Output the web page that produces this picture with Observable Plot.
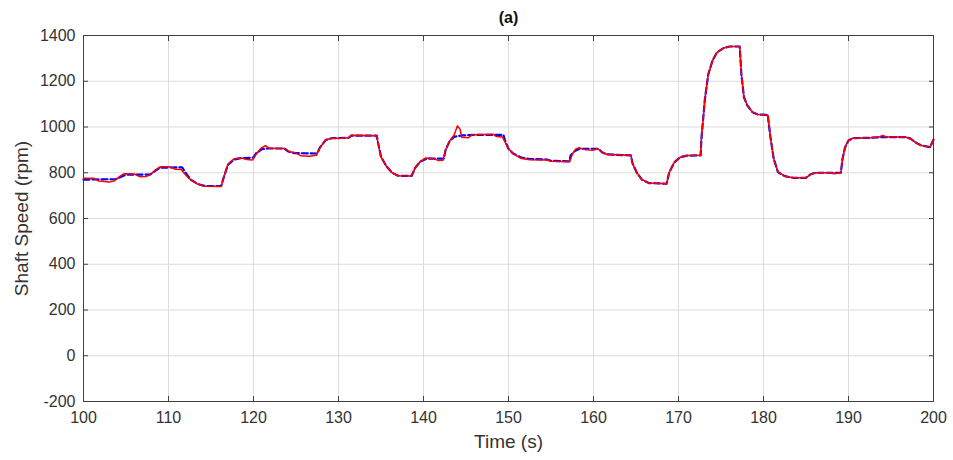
<!DOCTYPE html>
<html>
<head>
<meta charset="utf-8">
<script src="https://cdn.jsdelivr.net/npm/d3@7"></script>
<script src="https://cdn.jsdelivr.net/npm/@observablehq/plot@0.6"></script>
<style>
  html, body { margin: 0; padding: 0; background: #fff; }
  #chart svg { display: block; }
</style>
</head>
<body>
<div id="chart"></div>
<script>
// Reference shaft speed (blue dashed)
const refTime = [
  100, 103.8, 104.3, 105, 107.8, 108.3, 109, 111.6, 112.0, 112.6, 113.5, 114.3, 116.2,
  116.5, 117, 117.7, 118.5, 120, 120.3, 121, 121.6, 123.6, 124.1, 124.8, 127.5,
  127.8, 128.5, 129.2, 131.2, 131.5, 134.5, 134.6, 135.0, 135.6, 136.3, 137, 138.6,
  139.0, 139.6, 140.4, 142.4, 142.6, 143.1, 143.6, 144.5, 146.0, 149.4,
  149.6, 150.0, 150.5, 151.5, 152.5, 154.5, 155, 157.2,
  157.3, 157.8, 158.4, 160.6, 161.0, 161.6, 164.4,
  164.6, 165.1, 165.7, 166.5, 168.6, 168.9, 169.5, 170.2, 171, 172.6,
  172.7, 173.1, 173.5, 174.0, 174.5, 175.3, 176, 177.2,
  177.4, 177.7, 178.1, 178.7, 179.3, 180.5,
  180.8, 181.2, 181.7, 182.5, 183.5, 185, 185.5, 186.1, 189.1,
  189.3, 189.6, 190, 190.5, 192.6, 194, 196.7, 197.3, 198, 198.6, 199.6, 200
];
const refSpeed = [
  770, 772, 780, 792, 792, 805, 822, 824, 800, 770, 750, 742, 742,
  780, 835, 858, 864, 866, 885, 903, 906, 906, 893, 886, 884,
  910, 943, 951, 953, 962, 962, 940, 870, 830, 800, 787, 786,
  820, 848, 862, 862, 900, 940, 957, 963, 966, 966,
  940, 905, 885, 866, 860, 858, 852, 850,
  875, 895, 905, 905, 890, 880, 876,
  840, 800, 770, 755, 752, 800, 845, 868, 875, 876,
  950, 1120, 1230, 1290, 1325, 1345, 1352, 1352,
  1230, 1130, 1094, 1065, 1055, 1053,
  960, 861, 803, 785, 778, 778, 792, 800, 800,
  861, 912, 941, 951, 953, 956, 956, 949, 930, 919, 912, 945
];

// Measured shaft speed (red solid)
const measTime = [
  100, 101.2, 101.8, 103.0, 103.6, 104.3, 104.8, 106.0, 106.6, 107.4, 107.9, 108.4, 109.0,
  110.2, 110.8, 111.5, 111.8, 112.4, 113.3, 114.2, 116.2,
  116.5, 117.0, 117.7, 118.6, 119.2, 119.9, 120.3, 120.9, 121.4, 121.9, 123.7,
  124.2, 124.9, 125.6, 126.6, 127.4, 127.8, 128.5, 129.3, 130.0, 131.2, 131.5, 133.2, 134.5,
  134.6, 135.0, 135.6, 136.3, 137, 138.6, 139.0, 139.6, 140.2, 141.2, 141.7, 142.3,
  142.6, 143.1, 143.6, 144.0, 144.3, 144.5, 145.3, 145.7, 148.2, 148.6, 149.3,
  149.5, 150.0, 150.5, 151.5, 152.5, 154.5, 155, 157.2,
  157.5, 157.9, 158.3, 159.1, 159.9, 160.5, 161.0, 161.6, 164.4,
  164.6, 165.1, 165.7, 166.5, 168.6, 168.9, 169.5, 170.2, 171, 172.6,
  172.7, 173.1, 173.5, 174.0, 174.5, 175.3, 176, 177.2,
  177.4, 177.7, 178.1, 178.7, 179.3, 180.5,
  180.8, 181.2, 181.7, 182.5, 183.5, 185, 185.5, 186.1, 187.8, 188.3, 189.1,
  189.3, 189.6, 190, 190.5, 192.6, 193.6, 194.0, 194.5, 196.7, 197.3, 198, 198.6, 199.6, 200
];
const measSpeed = [
  776, 776, 764, 760, 764, 785, 796, 794, 783, 784, 792, 810, 826,
  826, 815, 814, 800, 775, 752, 741, 740,
  780, 838, 861, 864, 858, 856, 880, 908, 918, 907, 906,
  892, 888, 874, 872, 876, 908, 944, 952, 950, 953, 964, 963, 962,
  940, 870, 830, 800, 787, 786, 820, 848, 864, 862, 854, 855,
  900, 940, 965, 1005, 990, 955, 953, 966, 968, 958, 956,
  940, 905, 885, 862, 857, 856, 850, 848,
  880, 903, 910, 900, 898, 905, 890, 880, 876,
  840, 800, 770, 755, 752, 800, 845, 868, 875, 876,
  950, 1120, 1230, 1290, 1325, 1345, 1352, 1352,
  1230, 1130, 1094, 1065, 1055, 1053,
  960, 861, 803, 785, 778, 778, 792, 800, 800, 796, 800,
  861, 912, 941, 951, 953, 956, 963, 956, 956, 949, 930, 919, 912, 945
];

const xTicks = [100, 110, 120, 130, 140, 150, 160, 170, 180, 190, 200];
const yTicks = [-200, 0, 200, 400, 600, 800, 1000, 1200, 1400];
const title = "(a)";
const xLabel = "Time (s)";
const yLabel = "Shaft Speed (rpm)";

const ref = refTime.map((t, i) => ({t, v: refSpeed[i]}));
const meas = measTime.map((t, i) => ({t, v: measSpeed[i]}));

const font = "'Liberation Sans', Arial, Helvetica, sans-serif";
const axisColor = "#404040";
const plain = d => String(d);

const chart = Plot.plot({
  width: 953,
  height: 460,
  marginLeft: 83,
  marginRight: 20,
  marginTop: 35,
  marginBottom: 59,
  style: {fontFamily: font, color: "#333", background: "#fff"},
  x: {domain: [100, 200], ticks: xTicks},
  y: {domain: [-200, 1400], ticks: yTicks},
  marks: [
    Plot.gridX(xTicks, {stroke: "#dcdcdc", strokeOpacity: 1}),
    Plot.gridY(yTicks, {stroke: "#dcdcdc", strokeOpacity: 1}),
    Plot.lineY(ref, {x: "t", y: "v", stroke: "#0000ff", strokeWidth: 2.2, strokeDasharray: "6,3"}),
    Plot.lineY(meas, {x: "t", y: "v", stroke: "#ff0000", strokeWidth: 1.5}),
    Plot.frame({stroke: axisColor, strokeWidth: 1}),
    // inward tick marks on all four sides
    Plot.axisX(xTicks, {anchor: "bottom", tickSize: -5, fill: "none", stroke: axisColor, label: null}),
    Plot.axisX(xTicks, {anchor: "top", tickSize: -5, fill: "none", stroke: axisColor, label: null}),
    Plot.axisY(yTicks, {anchor: "left", tickSize: -5, fill: "none", stroke: axisColor, label: null}),
    Plot.axisY(yTicks, {anchor: "right", tickSize: -5, fill: "none", stroke: axisColor, label: null}),
    // tick labels
    Plot.axisX(xTicks, {anchor: "bottom", tickSize: 0, tickPadding: 10, fontSize: 16, fill: "#333",
      tickFormat: plain, label: null}),
    Plot.axisY(yTicks, {anchor: "left", tickSize: 0, tickPadding: 8, fontSize: 16, fill: "#333",
      tickFormat: plain, label: null}),
    // axis titles and panel title
    Plot.text([xLabel], {frameAnchor: "bottom", dy: 40, lineAnchor: "middle", textAnchor: "middle",
      fontSize: 19, fill: "#333"}),
    Plot.text([yLabel], {frameAnchor: "left", dx: -62, rotate: -90, lineAnchor: "middle", textAnchor: "middle",
      fontSize: 19, fill: "#333"}),
    Plot.text([title], {frameAnchor: "top", dy: -18, lineAnchor: "middle", fontWeight: "bold",
      fontSize: 16, fill: "#111"})
  ]
});

document.getElementById("chart").append(chart);
</script>
</body>
</html>
